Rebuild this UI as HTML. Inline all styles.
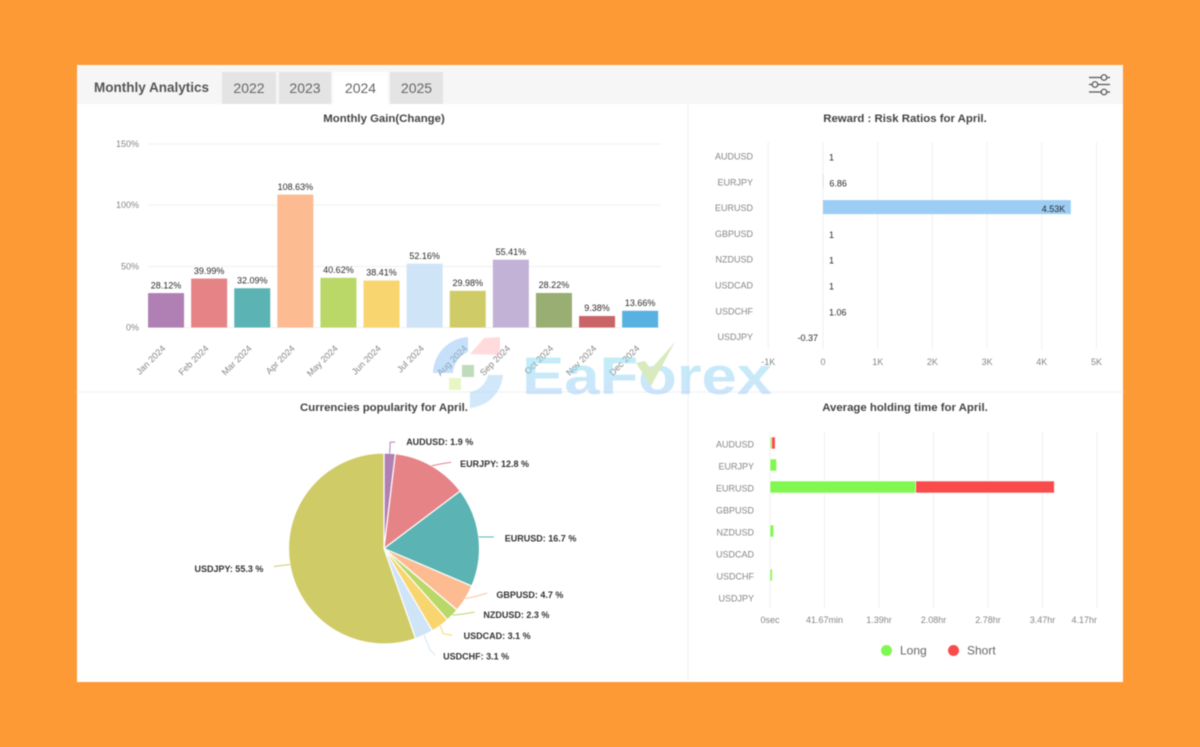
<!DOCTYPE html>
<html lang="en">
<head>
<meta charset="utf-8">
<title>Monthly Analytics</title>
<style>
html,body{margin:0;padding:0;width:1200px;height:747px;overflow:hidden;background:#fe9a35;font-family:"Liberation Sans",Arial,sans-serif}
#panel{position:absolute;left:77px;top:65px;width:1046px;height:617px;background:#fff;filter:blur(.4px)}
#header{position:absolute;left:0;top:0;width:1046px;height:39px;background:#f6f6f6}
#heading{position:absolute;left:17px;top:14px;font-size:13.5px;font-weight:bold;color:#555;line-height:17px}
.tab{position:absolute;top:7px;height:32px;line-height:30px;text-align:center;font-size:14px;color:#666;background:#e4e4e4;border:0;padding:0;font-family:inherit}
.tab.on{background:#fff}
text{font-family:"Liberation Sans",Arial,sans-serif}
</style>
</head>
<body>
<div id="panel">
  <div id="header">
    <div id="heading">Monthly Analytics</div>
    <button class="tab" style="left:145px;width:54px">2022</button>
    <button class="tab" style="left:202px;width:52px">2023</button>
    <button class="tab on" style="left:256px;width:55px">2024</button>
    <button class="tab" style="left:313px;width:53px">2025</button>
  </div>
</div>
<svg id="overlay" width="1200" height="747" viewBox="0 0 1200 747" style="position:absolute;left:0;top:0;filter:blur(.4px)">
  <line x1="688" y1="104" x2="688" y2="682" stroke="#f1f1f1"/>
  <line x1="77" y1="392" x2="1123" y2="392" stroke="#f1f1f1"/>
  <g stroke="#555" stroke-width="1.2" fill="#f6f6f6">
    <line x1="1089" y1="77.5" x2="1110" y2="77.5"/>
    <line x1="1089" y1="84.5" x2="1110" y2="84.5"/>
    <line x1="1089" y1="92" x2="1110" y2="92"/>
    <circle cx="1104" cy="77.5" r="2.8"/>
    <circle cx="1095" cy="84.5" r="2.8"/>
    <circle cx="1104" cy="92" r="2.8"/>
  </g>
  <g id="gain-chart"></g>
  <g id="ratio-chart"></g>
  <g id="pie-chart"></g>
  <g id="hold-chart"></g>
  <g id="legend">
    <g>
      <circle cx="886.5" cy="650.5" r="5.5" fill="#80f84f"/>
      <text x="900" y="654.5" font-size="12" fill="#666">Long</text>
    </g>
    <g>
      <circle cx="953.5" cy="650.5" r="5.5" fill="#f94b4b"/>
      <text x="967" y="654.5" font-size="12" fill="#666">Short</text>
    </g>
  </g>
  <g opacity=".5" style="pointer-events:none">
    <defs>
      <linearGradient id="wm" x1="0" y1="0" x2="0" y2="1">
        <stop offset="0" stop-color="#7fe0ee"/>
        <stop offset="1" stop-color="#a3c6f8"/>
      </linearGradient>
    </defs>
    <path d="M433 373 A37 37 0 0 1 468 337 L468 352 A24 24 0 0 0 453 373 Z" fill="#8fc2f5"/>
    <path d="M470 354 L484 338 L500 337 L500 355 Z" fill="#ffb8bd"/>
    <path d="M488 375 L503 375 A36 36 0 0 1 470 408 L470 392 A22 22 0 0 0 488 375 Z" fill="#a4d2f8"/>
    <rect x="462" y="365" width="12" height="12" fill="#80b87a"/>
    <rect x="449" y="378" width="12" height="12" fill="#d6ec8c"/>
    <text x="522" y="394" font-size="53" font-weight="bold" fill="url(#wm)" textLength="250" lengthAdjust="spacingAndGlyphs">EaForex</text>
    <path d="M636 363 L645 361 L651 369 L675 342 L651 386 Z" fill="#b4d67e"/>
  </g>
</svg>
<script>
/* ---------- Monthly gain data ---------- */
const gainMonths = ['Jan 2024','Feb 2024','Mar 2024','Apr 2024','May 2024','Jun 2024','Jul 2024','Aug 2024','Sep 2024','Oct 2024','Nov 2024','Dec 2024'];
const gainValues = [28.12,39.99,32.09,108.63,40.62,38.41,52.16,29.98,55.41,28.22,9.38,13.66];
const gainColors = ['#b07fb3','#e68387','#5bb3b3','#fdbb92','#b9d867','#f9d56f','#cfe4f7','#cfcb67','#c2b2d6','#98ae72','#c96469','#58b1e0'];
const gainTicks = [0,50,100,150];

/* ---------- Reward : risk data ---------- */
const ratioPairs = ['AUDUSD','EURJPY','EURUSD','GBPUSD','NZDUSD','USDCAD','USDCHF','USDJPY'];
const ratioValues = [1,6.86,4530,1,1,1,1.06,-0.37];
const ratioLabels = ['1','6.86','4.53K','1','1','1','1.06','-0.37'];
const ratioTicks = [-1000,0,1000,2000,3000,4000,5000];
const ratioTickLabels = ['-1K','0','1K','2K','3K','4K','5K'];

/* ---------- Popularity data ---------- */
const piePairs = ['AUDUSD','EURJPY','EURUSD','GBPUSD','NZDUSD','USDCAD','USDCHF','USDJPY'];
const pieValues = [1.9,12.8,16.7,4.7,2.3,3.1,3.1,55.3];
const pieColors = ['#b07fb3','#e68387','#5bb3b3','#fdbb92','#b9d867','#f9d56f','#cfe4f7','#cfcb67'];

/* ---------- Holding time data (minutes) ---------- */
const holdPairs = ['AUDUSD','EURJPY','EURUSD','GBPUSD','NZDUSD','USDCAD','USDCHF','USDJPY'];
const holdLong = [1.2,5,111.4,0,2.8,0,1.8,0];
const holdShort = [2.8,0,106,0,0,0,0,0];
const holdTicks = [0,41.67,83.33,125,166.67,208.33,250];
const holdTickLabels = ['0sec','41.67min','1.39hr','2.08hr','2.78hr','3.47hr','4.17hr'];

const NS = 'http://www.w3.org/2000/svg';
function mk(parent, tag, attrs, content) {
  const el = document.createElementNS(NS, tag);
  for (const k in attrs) el.setAttribute(k, attrs[k]);
  if (content !== undefined) el.textContent = content;
  parent.appendChild(el);
  return el;
}
const GRID = '#f0f0f0', AXIS_TEXT = '#858585', VALUE_TEXT = '#2a2a2a', TITLE_TEXT = '#444';

function chartTitle(parent, x, y, str) {
  const t = mk(parent, 'text', {x: x, y: y, 'font-size': 11.4, 'font-weight': 'bold', fill: TITLE_TEXT, 'text-anchor': 'middle'}, str);
  
  
}

/* Monthly gain */
(function () {
  const g = document.getElementById('gain-chart');
  const y = v => 327.5 - v * 1.2233;
  const band = 43.1;
  const x = i => 144.5 + band * (i + 0.5);
  chartTitle(g, 384, 122, 'Monthly Gain(Change)');
  gainTicks.forEach(function (t) {
    const line = mk(g, 'line', {x1: 148, x2: 661, y1: y(t), y2: y(t), stroke: GRID});
    
    
    const lab = mk(g, 'text', {x: 139, y: y(t) + 3, 'font-size': 9, fill: AXIS_TEXT, 'text-anchor': 'end'}, t + '%');
    
    
  });
  gainValues.forEach(function (v, i) {
    const bar = mk(g, 'rect', {x: x(i) - 18, y: y(v), width: 36, height: y(0) - y(v), fill: gainColors[i]});
    
    
    const val = mk(g, 'text', {x: x(i), y: y(v) - 4.8, 'font-size': 9, fill: VALUE_TEXT, 'text-anchor': 'middle'}, v.toFixed(2) + '%');
    
    
    const px = x(i), py = 349;
    const tick = mk(g, 'text', {x: px, y: py, 'font-size': 9, fill: AXIS_TEXT, 'text-anchor': 'end', transform: 'rotate(-45 ' + px + ' ' + py + ')'}, gainMonths[i]);
    
    
  });
})();

/* Reward : risk */
(function () {
  const g = document.getElementById('ratio-chart');
  const x = v => 823 + v * 0.0547;
  const y = i => 156.5 + 25.8 * i;
  chartTitle(g, 905, 122, 'Reward : Risk Ratios for April.');
  ratioTicks.forEach(function (t, i) {
    const line = mk(g, 'line', {x1: x(t), x2: x(t), y1: 142, y2: 349, stroke: GRID});
    
    
    const lab = mk(g, 'text', {x: x(t), y: 365, 'font-size': 9, fill: AXIS_TEXT, 'text-anchor': 'middle'}, ratioTickLabels[i]);
    
    
  });
  ratioValues.forEach(function (v, i) {
    const cat = mk(g, 'text', {x: 753, y: y(i) + 3, 'font-size': 9, fill: AXIS_TEXT, 'text-anchor': 'end'}, ratioPairs[i]);
    
    
    const x0 = Math.min(x(0), x(v)), w = Math.abs(x(v) - x(0));
    const bar = mk(g, 'rect', {x: x0, y: y(i) - 8, width: w, height: 14, fill: '#9ccdf5'});
    
    
    let lx, anchor;
    if (v < 0) { lx = x(v) - 5; anchor = 'end'; }
    else if (w > 60) { lx = x(v) - 5.5; anchor = 'end'; }
    else { lx = x(v) + 6; anchor = 'start'; }
    const val = mk(g, 'text', {x: lx, y: y(i) + 4, 'font-size': 9, fill: VALUE_TEXT, 'text-anchor': anchor}, ratioLabels[i]);
    
    
  });
})();

/* Pie */
(function () {
  const g = document.getElementById('pie-chart');
  const cx = 384, cy = 548.5, r = 95.5;
  /* connector geometry, relative to each slice's rim midpoint: knee, end, text gap, text dy */
  const connectors = [
    {k: [0.5, -11], e: [5.5, -11], gap: 11, dy: 0, side: 1},
    {k: [10, -2], e: [19.5, -3.5], gap: 9, dy: 2, side: 1},
    {k: [7, 0], e: [15, 0], gap: 11, dy: 1.5, side: 1},
    {k: [10, -2], e: [22, -5.5], gap: 9, dy: 2, side: 1},
    {k: [10, -1], e: [22, -3], gap: 9, dy: 3, side: 1},
    {k: [3, 8], e: [12, 9.5], gap: 11.5, dy: 1, side: 1},
    {k: [6, 15], e: [11, 20], gap: 8, dy: 1.5, side: 1},
    {k: [-8, 1], e: [-16, 2], gap: 10.5, dy: 2.5, side: -1}
  ];
  const total = pieValues.reduce((a, b) => a + b, 0);
  const pt = (ang, rad) => [cx + rad * Math.sin(ang), cy - rad * Math.cos(ang)];
  chartTitle(g, 384, 411, 'Currencies popularity for April.');
  let cum = 0;
  pieValues.forEach(function (v, i) {
    const a0 = cum / total * 2 * Math.PI;
    cum += v;
    const a1 = cum / total * 2 * Math.PI;
    const p0 = pt(a0, r), p1 = pt(a1, r);
    const large = (a1 - a0) > Math.PI ? 1 : 0;
    const slice = mk(g, 'path', {
      d: 'M' + cx + ' ' + cy + ' L' + p0[0] + ' ' + p0[1] + ' A' + r + ' ' + r + ' 0 ' + large + ' 1 ' + p1[0] + ' ' + p1[1] + ' Z',
      fill: pieColors[i], stroke: '#fff', 'stroke-width': 1.2
    });
    
    
    const m = pt((a0 + a1) / 2, r);
    const c = connectors[i];
    const ex = m[0] + c.e[0], ey = m[1] + c.e[1];
    const lead = mk(g, 'polyline', {
      points: m[0] + ',' + m[1] + ' ' + (m[0] + c.k[0]) + ',' + (m[1] + c.k[1]) + ' ' + ex + ',' + ey,
      fill: 'none', stroke: pieColors[i], 'stroke-width': 1
    });
    
    
    const lab = mk(g, 'text', {
      x: ex + c.side * c.gap, y: ey + c.dy + 3, 'font-size': 9, 'font-weight': 'bold', fill: '#333',
      'text-anchor': c.side > 0 ? 'start' : 'end'
    }, piePairs[i] + ': ' + v.toFixed(1) + ' %');
    
    
  });
})();

/* Holding time */
(function () {
  const g = document.getElementById('hold-chart');
  const x = m => 770 + m * 1.308;
  const barY = i => 443 + 22 * i;
  chartTitle(g, 905, 411, 'Average holding time for April.');
  holdTicks.forEach(function (t, i) {
    const line = mk(g, 'line', {x1: x(t), x2: x(t), y1: 432, y2: 608, stroke: GRID});
    
    
    const last = i === holdTicks.length - 1;
    const lab = mk(g, 'text', {x: x(t), y: 623, 'font-size': 9, fill: AXIS_TEXT, 'text-anchor': last ? 'end' : 'middle'}, holdTickLabels[i]);
    
    
  });
  holdPairs.forEach(function (p, i) {
    const cat = mk(g, 'text', {x: 754, y: barY(i) + 4.5, 'font-size': 9, fill: AXIS_TEXT, 'text-anchor': 'end'}, p);
    
    
    if (holdLong[i] > 0) {
      const a = mk(g, 'rect', {x: x(0), y: barY(i) - 6, width: x(holdLong[i]) - x(0), height: 12, fill: '#80f84f', stroke: '#fff', 'stroke-width': 0.6});
      
      
    }
    if (holdShort[i] > 0) {
      const b = mk(g, 'rect', {x: x(holdLong[i]), y: barY(i) - 6, width: x(holdShort[i]) - x(0), height: 12, fill: '#f94b4b', stroke: '#fff', 'stroke-width': 0.6});
      
      
    }
  });
})();
</script>
</body>
</html>
